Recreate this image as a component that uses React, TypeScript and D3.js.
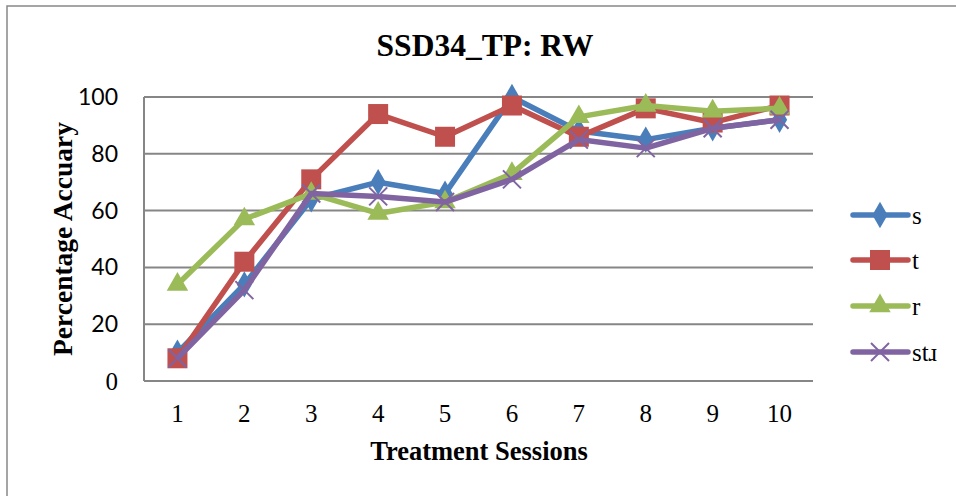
import React from "react";
import * as d3 from "d3";

const sessions = ["1", "2", "3", "4", "5", "6", "7", "8", "9", "10"];
const seriesNames = ["s", "t", "r", "stɹ"];
const sValues = [10, 34, 64, 70, 66, 100, 88, 85, 89, 92];
const tValues = [8, 42, 71, 94, 86, 97, 86, 96, 91, 97];
const rValues = [34, 57, 66, 59, 63, 73, 93, 97, 95, 96];
const strValues = [8, 32, 66, 65, 63, 71, 85, 82, 89, 92];
const yTicks = [0, 20, 40, 60, 80, 100];
const colors = ["#4A7EBB", "#C0504D", "#9BBB59", "#8064A2"];
const markers = ["diamond", "square", "triangle", "x"];

const W = 956, H = 496;
const plot = { left: 144, right: 813, top: 97, bottom: 381 };

function Marker({ type, x, y, color }: { type: string; x: number; y: number; color: string }) {
  if (type === "diamond") {
    const p = d3.symbol().type(d3.symbolDiamond).size(200)();
    return <path d={p || ""} transform={`translate(${x},${y})`} fill={color} />;
  }
  if (type === "square") {
    return <rect x={x - 10} y={y - 10} width={20} height={20} fill={color} />;
  }
  if (type === "triangle") {
    const p = d3.symbol().type(d3.symbolTriangle).size(200)();
    return <path d={p || ""} transform={`translate(${x},${y})`} fill={color} />;
  }
  const s = 9;
  return (
    <g stroke={color} strokeWidth={2}>
      <line x1={x - s} y1={y - s} x2={x + s} y2={y + s} />
      <line x1={x - s} y1={y + s} x2={x + s} y2={y - s} />
    </g>
  );
}

export default function App() {
  const x = d3.scaleBand().domain(sessions).range([plot.left, plot.right]);
  const y = d3.scaleLinear().domain([0, 100]).range([plot.bottom, plot.top]);
  const data = [sValues, tValues, rValues, strValues];
  const line = d3
    .line<number>()
    .x((_, i) => (x(sessions[i]) as number) + x.bandwidth() / 2)
    .y((d) => y(d));
  const serif = "'Liberation Serif', 'Times New Roman', serif";
  const legendY = [215, 260, 306, 352];

  return (
    <svg
      width={W}
      height={H}
      style={{ position: "absolute", left: 0, top: 0, background: "#fff" }}
    >
      <rect x={7} y={6} width={W} height={H} fill="#fff" stroke="#888" strokeWidth={1.5} />
      <text x={485} y={56} textAnchor="middle" fontFamily={serif} fontWeight="bold" fontSize={31.5}>
        SSD34_TP: RW
      </text>
      {yTicks.map((t) => (
        <line key={t} x1={plot.left} x2={plot.right} y1={y(t)} y2={y(t)} stroke="#868686" strokeWidth={2} />
      ))}
      <line x1={plot.left} x2={plot.left} y1={plot.top} y2={plot.bottom} stroke="#868686" strokeWidth={2} />
      {yTicks.map((t) => (
        <text
          key={t}
          x={118}
          y={y(t)}
          dy="0.35em"
          textAnchor="end"
          fontFamily={t === 0 ? serif : "Lato, sans-serif"}
          fontSize={t === 0 ? 25 : 23}
        >
          {t}
        </text>
      ))}
      {sessions.map((s) => (
        <text
          key={s}
          x={(x(s) as number) + x.bandwidth() / 2}
          y={422}
          textAnchor="middle"
          fontFamily={serif}
          fontSize={25}
        >
          {s}
        </text>
      ))}
      <text x={479} y={460} textAnchor="middle" fontFamily={serif} fontWeight="bold" fontSize={26.5}>
        Treatment Sessions
      </text>
      <text
        transform={`translate(72,239) rotate(-90)`}
        textAnchor="middle"
        fontFamily={serif}
        fontWeight="bold"
        fontSize={27.5}
      >
        Percentage Accuary
      </text>
      {data.map((vals, si) => (
        <g key={si}>
          <path d={line(vals) || ""} fill="none" stroke={colors[si]} strokeWidth={5.5} strokeLinejoin="round" />
          {vals.map((v, i) => (
            <Marker
              key={i}
              type={markers[si]}
              x={(x(sessions[i]) as number) + x.bandwidth() / 2}
              y={y(v)}
              color={colors[si]}
            />
          ))}
        </g>
      ))}
      {seriesNames.map((n, si) => (
        <g key={n}>
          <line x1={853} x2={908} y1={legendY[si]} y2={legendY[si]} stroke={colors[si]} strokeWidth={5.5} strokeLinecap="round" />
          <Marker type={markers[si]} x={880} y={legendY[si]} color={colors[si]} />
          <text x={912} y={legendY[si]} dy="0.35em" fontFamily={serif} fontSize={25}>
            {n}
          </text>
        </g>
      ))}
    </svg>
  );
}
